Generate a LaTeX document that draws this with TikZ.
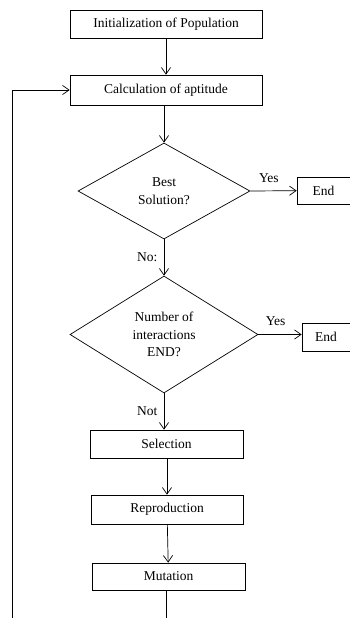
\documentclass[tikz,border=0pt]{standalone}
\usepackage{fontspec}
\setmainfont{Liberation Serif}
\usetikzlibrary{positioning, shapes.geometric, arrows.meta}

\tikzset{
  stepbox/.style={draw, line width=0.7pt, inner sep=0pt},
  testbox/.style={draw, diamond, line width=0.7pt, inner sep=0pt, align=center}
}

\begin{document}
\begin{tikzpicture}[x=1pt, y=-1pt, >={Straight Barb[angle=70:8pt]}, line width=0.7pt, font=\fontsize{13.5}{17.5}\selectfont]
\useasboundingbox (0,0) rectangle (350,618);
\node[stepbox, minimum width=192, minimum height=28](init) at (166,24) {Initialization of Population};
\node[stepbox, minimum width=192, minimum height=30](calc) at (166,90) {Calculation of aptitude};
\node[testbox, minimum width=172, minimum height=96](best) at (164,191) {Best\\Solution?};
\node[stepbox, minimum width=53, minimum height=27](endA) at (323.5,190.5) {End};
\node[testbox, minimum width=188, minimum height=117](iter) at (164,334.5) {Number of\\interactions\\END?};
\node[stepbox, minimum width=48, minimum height=28](endB) at (326,337) {End};
\node[stepbox, minimum width=153, minimum height=28](sel) at (166.5,444) {Selection};
\node[stepbox, minimum width=152, minimum height=29](rep) at (167,509.5) {Reproduction};
\node[stepbox, minimum width=153, minimum height=27](mut) at (168.5,576.5) {Mutation};

\coordinate (mutout) at (166,618);
\coordinate (loopbot) at (12,618);

\draw[->] (init) -- (calc);
\draw[->] (calc.south -| best.north) -- (best.north);
\draw[->] (best.east) -- node[above=5pt, pos=0.4]{Yes} (endA);
\draw[->] (best.south) -- node[left=3pt]{No:} (iter.north);
\draw[->] (iter.east) -- node[above=5pt, pos=0.4]{Yes} (endB.west |- iter.east);
\draw[->] (iter.south) -- node[left=3pt]{Not} (iter.south |- sel.north);
\draw[->] (sel.south -| rep.north) -- (rep);
\draw[->] (rep) -- (mut);
\draw (mut.south -| mutout) -- (mutout);
\draw[->] (loopbot) |- (calc.west);
\end{tikzpicture}
\end{document}
